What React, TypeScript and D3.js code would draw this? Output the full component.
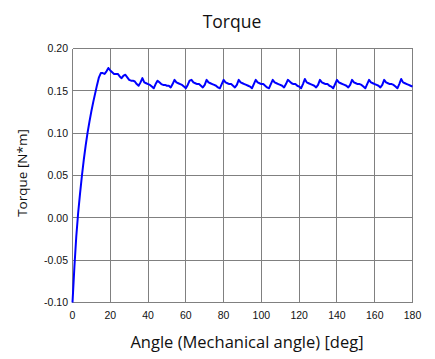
import React from "react";
import * as d3 from "d3";

const TITLE = "Torque";
const X_LABEL = "Angle (Mechanical angle) [deg]";
const Y_LABEL = "Torque [N*m]";

const xTicks = [0, 20, 40, 60, 80, 100, 120, 140, 160, 180];
const yTicks = [-0.1, -0.05, 0, 0.05, 0.1, 0.15, 0.2];

// torque sampled every 1 deg from 0 to 180
const torque = [
  -0.100, -0.058, -0.022, 0.006, 0.029, 0.050, 0.069, 0.086, 0.101, 0.114,
  0.126, 0.137, 0.147, 0.157, 0.166, 0.171, 0.171, 0.170, 0.173, 0.177,
  0.174, 0.172, 0.170, 0.170, 0.170, 0.167, 0.165, 0.168, 0.169, 0.166,
  0.163, 0.162, 0.162, 0.161, 0.158, 0.156, 0.160, 0.165, 0.160, 0.159,
  0.158, 0.157, 0.155, 0.153, 0.158, 0.162, 0.160, 0.158, 0.157, 0.157,
  0.156, 0.156, 0.154, 0.158, 0.163, 0.160, 0.159, 0.158, 0.157, 0.155,
  0.153, 0.157, 0.162, 0.163, 0.160, 0.159, 0.158, 0.158, 0.156, 0.154,
  0.157, 0.163, 0.160, 0.159, 0.158, 0.157, 0.156, 0.154, 0.153, 0.158,
  0.163, 0.160, 0.159, 0.158, 0.158, 0.156, 0.154, 0.157, 0.163, 0.160,
  0.159, 0.158, 0.157, 0.156, 0.155, 0.153, 0.158, 0.163, 0.160, 0.159,
  0.158, 0.158, 0.156, 0.154, 0.153, 0.158, 0.163, 0.160, 0.159, 0.158,
  0.157, 0.156, 0.154, 0.158, 0.163, 0.161, 0.159, 0.158, 0.158, 0.156,
  0.155, 0.153, 0.158, 0.164, 0.160, 0.159, 0.158, 0.157, 0.156, 0.154,
  0.157, 0.163, 0.160, 0.159, 0.158, 0.158, 0.156, 0.155, 0.153, 0.158,
  0.163, 0.160, 0.159, 0.158, 0.157, 0.156, 0.154, 0.157, 0.163, 0.160,
  0.159, 0.158, 0.158, 0.157, 0.155, 0.153, 0.158, 0.163, 0.160, 0.159,
  0.158, 0.157, 0.156, 0.154, 0.157, 0.163, 0.160, 0.159, 0.158, 0.158,
  0.157, 0.155, 0.153, 0.158, 0.164, 0.160, 0.159, 0.158, 0.157, 0.156,
  0.155,
];
const angles = torque.map((_, i) => i);

const W = 435;
const H = 359;
const left = 72.5;
const right = 412.5;
const top = 48.5;
const bottom = 302.5;

export default function App() {
  const x = d3.scaleLinear().domain([0, 180]).range([left, right]);
  const y = d3.scaleLinear().domain([-0.1, 0.2]).range([bottom, top]);
  const line = d3
    .line<number>()
    .x((_, i) => x(angles[i]))
    .y((d) => y(d));
  const grid = "#808080";
  const tickFont = "'Liberation Sans', Arial, sans-serif";
  const labelFont = "'Open Sans', 'Noto Sans', sans-serif";
  return (
    <svg
      width={W}
      height={H}
      style={{ position: "absolute", left: 0, top: 0, background: "#fff" }}
    >
      <rect x={0} y={0} width={W} height={H} fill="#fff" />
      <g shapeRendering="crispEdges" stroke={grid} strokeWidth={1}>
        {xTicks.map((t) => (
          <line key={"x" + t} x1={Math.round(x(t) - 0.5) + 0.5} x2={Math.round(x(t) - 0.5) + 0.5} y1={top} y2={bottom} />
        ))}
        {yTicks.map((t) => (
          <line key={"y" + t} x1={left} x2={right} y1={Math.round(y(t) - 0.5) + 0.5} y2={Math.round(y(t) - 0.5) + 0.5} />
        ))}
      </g>
      <path d={line(torque) || ""} fill="none" stroke="#0000ff" strokeWidth={2} strokeLinejoin="round" />
      <g fontFamily={tickFont} fontSize={10.5} fill="#111">
        {yTicks.map((t) => (
          <text key={"yl" + t} x={68} y={y(t)} dy="0.35em" textAnchor="end">
            {d3.format(".2f")(t).replace("−", "-")}
          </text>
        ))}
        {xTicks.map((t) => (
          <text key={"xl" + t} x={x(t)} y={319} textAnchor="middle">
            {t}
          </text>
        ))}
      </g>
      <text x={232} y={28} textAnchor="middle" fontFamily={labelFont} fontSize={17.5} fill="#111">
        {TITLE}
      </text>
      <text x={247} y={348} textAnchor="middle" fontFamily={labelFont} fontSize={16.5} fill="#111">
        {X_LABEL}
      </text>
      <text
        transform={`translate(27, 173) rotate(-90)`}
        textAnchor="middle"
        fontFamily={labelFont}
        fontSize={13.5}
        fill="#111"
      >
        {Y_LABEL}
      </text>
    </svg>
  );
}
